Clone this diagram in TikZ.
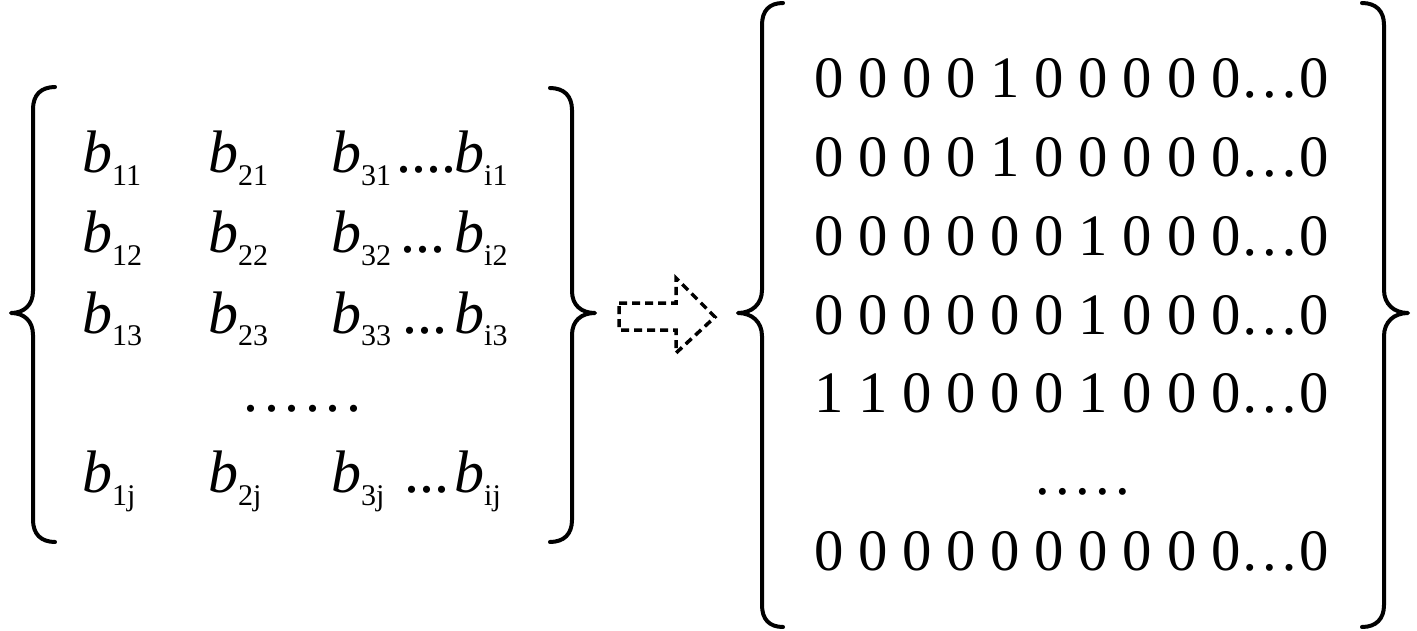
\documentclass[tikz,border=0pt]{standalone}
\usepackage{fontspec}
\setmainfont{Liberation Serif}
\newcommand{\bent}[1]{{\fontsize{60}{60}\selectfont\itshape b}\raisebox{-13pt}{\fontsize{30}{30}\selectfont #1}}
\newcommand{\bigtxt}{\fontsize{60}{60}\selectfont}
\newcommand{\digtxt}{\fontsize{58.7}{60}\selectfont}
\newcommand{\sdot}{.\kern5.5pt}
\begin{document}
\begin{tikzpicture}[x=1pt,y=-1pt,
  txt/.style={inner sep=0pt, anchor=base west},
  brc/.style={line width=4pt, line cap=round, line join=round},
  hollowarrow/.style={line width=3.5pt, dash pattern=on 8pt off 5pt, line join=miter}]
\useasboundingbox (0,0) rectangle (1417,631);
% left braces
\draw[brc] (55,87) .. controls (41,87) and (33,95) .. (33,109) -- (33,291)
  .. controls (33,305) and (24,313) .. (11,313)
  .. controls (24,313) and (33,321) .. (33,335) -- (33,520)
  .. controls (33,534) and (41,542) .. (55,542);
\draw[brc] (550,88) .. controls (564,88) and (572,96) .. (572,110) -- (572,291)
  .. controls (572,305) and (581,313) .. (595,313)
  .. controls (581,313) and (572,321) .. (572,335) -- (572,520)
  .. controls (572,534) and (564,542) .. (550,542);
% left matrix
\node[txt] (b11) at (82,173) {\bent{11}};
\node[txt] (b21) at (208,173) {\bent{21}};
\node[txt] (b31) at (331,173) {\bent{31}};
\node[txt] (d1) at (396,173) {\bigtxt ....};
\node[txt] (bi1) at (454,173) {\bent{i1}};
\node[txt] (b12) at (82,253) {\bent{12}};
\node[txt] (b22) at (208,253) {\bent{22}};
\node[txt] (b32) at (331,253) {\bent{32}};
\node[txt] (d2) at (400,253) {\bigtxt ...};
\node[txt] (bi2) at (454,253) {\bent{i2}};
\node[txt] (b13) at (82,333) {\bent{13}};
\node[txt] (b23) at (208,333) {\bent{23}};
\node[txt] (b33) at (331,333) {\bent{33}};
\node[txt] (d3) at (402,333) {\bigtxt ...};
\node[txt] (bi3) at (454,333) {\bent{i3}};
\node[txt] (dl) at (243.5,411) {\bigtxt \sdot\sdot\sdot\sdot\sdot.};
\node[txt] (b1j) at (82,492) {\bent{1j}};
\node[txt] (b2j) at (208,492) {\bent{2j}};
\node[txt] (b3j) at (331,492) {\bent{3j}};
\node[txt] (dj) at (404,492) {\bigtxt ...};
\node[txt] (bij) at (454,492) {\bent{ij}};
% hollow dashed arrow
\draw[hollowarrow] (619,303) -- (676,303) -- (676,278) -- (715,317) -- (676,353) -- (676,330) -- (619,330) -- cycle;
% right braces
\draw[brc] (783,3) .. controls (769,3) and (762,11) .. (762,25) -- (762,290)
  .. controls (762,304) and (752,313) .. (738,313)
  .. controls (752,313) and (762,322) .. (762,336) -- (762,605)
  .. controls (762,619) and (769,627) .. (783,627);
\draw[brc] (1362,3) .. controls (1376,3) and (1384,11) .. (1384,25) -- (1384,290)
  .. controls (1384,304) and (1394,313) .. (1408,313)
  .. controls (1394,313) and (1384,322) .. (1384,336) -- (1384,605)
  .. controls (1384,619) and (1376,627) .. (1362,627);
% right matrix
\node[txt] (r1) at (814.6,98) {\digtxt 0 0 0 0 1 0 0 0 0 0…0};
\node[txt] (r2) at (814.6,176.7) {\digtxt 0 0 0 0 1 0 0 0 0 0…0};
\node[txt] (r3) at (814.6,255.4) {\digtxt 0 0 0 0 0 0 1 0 0 0…0};
\node[txt] (r4) at (814.6,334.1) {\digtxt 0 0 0 0 0 0 1 0 0 0…0};
\node[txt] (r5) at (814.6,412.8) {\digtxt 1 1 0 0 0 0 1 0 0 0…0};
\node[txt] (rd) at (1035,494) {\digtxt \sdot\sdot\sdot\sdot.};
\node[txt] (r7) at (814.6,570.2) {\digtxt 0 0 0 0 0 0 0 0 0 0…0};
\end{tikzpicture}
\end{document}
